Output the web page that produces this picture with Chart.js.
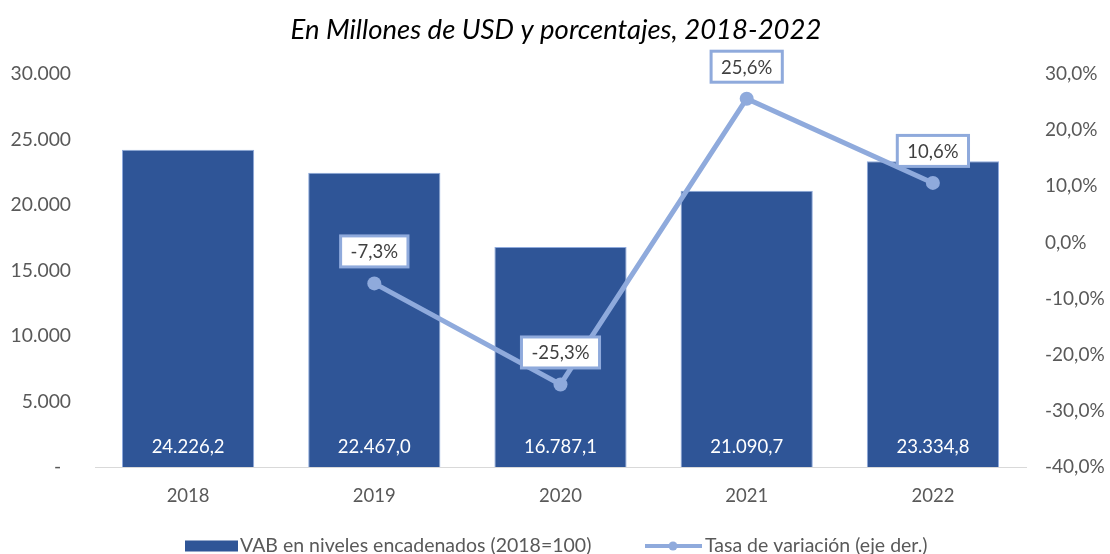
<!DOCTYPE html>
<html>
<head>
<meta charset="utf-8">
<script src="https://cdn.jsdelivr.net/npm/chart.js@4"></script>
<style>
  html, body { margin: 0; padding: 0; background: #fff; }
</style>
</head>
<body>
<canvas id="grafico" width="1110" height="554"></canvas>
<script>
// datos del grafico
const anios = ['2018', '2019', '2020', '2021', '2022'];
const vab = [24226.2, 22467.0, 16787.1, 21090.7, 23334.8];
const tasa = [null, -7.3, -25.3, 25.6, 10.6];
const titulo = 'En Millones de USD y porcentajes, 2018-2022';
const nombreBarras = 'VAB en niveles encadenados (2018=100)';
const nombreLinea = 'Tasa de variación (eje der.)';

const azul = '#2F5597';
const celeste = '#8FAADC';
const fuente = 'Lato, "Open Sans", sans-serif';

// formato con punto de miles y coma decimal
function formato(n, dec) {
  const partes = Math.abs(n).toFixed(dec).split('.');
  const ent = partes[0].replace(/\B(?=(\d{3})+(?!\d))/g, '.');
  return (n < 0 ? '-' : '') + ent + (dec > 0 ? ',' + partes[1] : '');
}

// etiquetas, titulo y leyenda dibujados a mano
const etiquetas = {
  id: 'etiquetas',
  afterDatasetsDraw(chart) {
    const ctx = chart.ctx;
    ctx.save();
    ctx.textAlign = 'center';
    ctx.textBaseline = 'middle';
    ctx.font = '18.5px ' + fuente;

    // valores dentro de las barras
    const barras = chart.getDatasetMeta(1);
    barras.data.forEach((b, i) => {
      ctx.fillStyle = '#fff';
      ctx.fillText(formato(vab[i], 1), b.x, b.base - 20);
    });

    // cajas de la tasa
    const linea = chart.getDatasetMeta(0);
    linea.data.forEach((p, i) => {
      if (tasa[i] == null) return;
      const txt = formato(tasa[i], 1) + '%';
      const w = ctx.measureText(txt).width + 20;
      const h = 31;
      const cy = p.y - 32;
      ctx.fillStyle = '#fff';
      ctx.fillRect(p.x - w / 2, cy - h / 2, w, h);
      ctx.strokeStyle = celeste;
      ctx.lineWidth = 3;
      ctx.strokeRect(p.x - w / 2, cy - h / 2, w, h);
      ctx.fillStyle = '#404040';
      ctx.fillText(txt, p.x, cy + 1);
    });
    ctx.restore();
  },
  afterDraw(chart) {
    const ctx = chart.ctx;
    ctx.save();
    ctx.textBaseline = 'middle';
    // titulo
    ctx.textAlign = 'center';
    ctx.fillStyle = '#000';
    ctx.font = 'italic 27.5px ' + fuente;
    ctx.fillText(titulo, 556, 30);

    // leyenda
    ctx.textAlign = 'left';
    ctx.font = '19.5px ' + fuente;
    const y = 546;
    ctx.fillStyle = azul;
    ctx.fillRect(185, y - 5.5, 53, 11);
    ctx.fillStyle = '#595959';
    ctx.fillText(nombreBarras, 240, y);

    ctx.strokeStyle = celeste;
    ctx.lineWidth = 4;
    ctx.beginPath();
    ctx.moveTo(645, y);
    ctx.lineTo(702, y);
    ctx.stroke();
    ctx.fillStyle = celeste;
    ctx.beginPath();
    ctx.arc(673, y, 4.5, 0, Math.PI * 2);
    ctx.fill();
    ctx.fillStyle = '#595959';
    ctx.fillText(nombreLinea, 705, y);
    ctx.restore();
  }
};

const ctx = document.getElementById('grafico').getContext('2d');
const grafico = new Chart(ctx, {
  type: 'bar',
  data: {
    labels: anios,
    datasets: [
      {
        type: 'line',
        label: nombreLinea,
        data: tasa,
        yAxisID: 'y1',
        borderColor: celeste,
        backgroundColor: celeste,
        borderWidth: 5,
        pointRadius: 7,
        pointBackgroundColor: celeste,
        pointBorderWidth: 0,
        order: 1
      },
      {
        label: nombreBarras,
        data: vab,
        yAxisID: 'y',
        backgroundColor: azul,
        borderColor: celeste,
        borderWidth: 1,
        categoryPercentage: 1,
        barPercentage: 0.71,
        order: 2
      }
    ]
  },
  options: {
    responsive: false,
    animation: false,
    devicePixelRatio: 1,
    layout: { padding: { top: 74, bottom: 47, left: 0, right: 0 } },
    plugins: {
      legend: { display: false },
      title: { display: false },
      tooltip: { enabled: false }
    },
    scales: {
      x: {
        grid: { display: false },
        border: { display: true, color: '#D9D9D9', width: 1 },
        ticks: { color: '#595959', font: { family: fuente, size: 18.5 }, padding: 10 },
        afterFit: s => { s.height = 40; }
      },
      y: {
        position: 'left',
        min: 0,
        max: 30000,
        grid: { display: false },
        border: { display: false },
        ticks: {
          stepSize: 5000,
          color: '#595959',
          font: { family: fuente, size: 19.3 },
          padding: 16,
          callback: v => v === 0 ? '-  ' : formato(v, 0)
        },
        afterFit: s => { s.width = 95; }
      },
      y1: {
        position: 'right',
        min: -40,
        max: 30,
        grid: { display: false },
        border: { display: false },
        ticks: {
          stepSize: 10,
          color: '#595959',
          font: { family: fuente, size: 19 },
          padding: 11,
          callback: v => formato(v, 1) + '%'
        },
        afterFit: s => { s.width = 84; }
      }
    }
  },
  plugins: [etiquetas]
});
</script>
</body>
</html>
